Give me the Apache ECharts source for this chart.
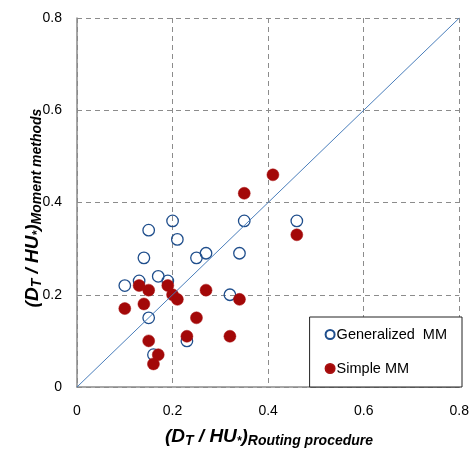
<!DOCTYPE html>
<html>
<head>
<meta charset="utf-8">
<script src="https://cdn.jsdelivr.net/npm/echarts@6/dist/echarts.min.js"></script>
<style>html,body{margin:0;padding:0;background:#fff}#c{width:472px;height:454px}</style>
</head>
<body>
<div id="c"></div>
<script>
const axisTicks = [0, 0.2, 0.4, 0.6, 0.8];
const seriesNames = ['Generalized  MM', 'Simple MM'];
const generalizedMM = [
  [0.20, 0.36], [0.15, 0.34], [0.21, 0.32], [0.35, 0.36], [0.46, 0.36],
  [0.14, 0.28], [0.25, 0.28], [0.27, 0.29], [0.34, 0.29], [0.17, 0.24],
  [0.13, 0.23], [0.19, 0.23], [0.10, 0.22], [0.32, 0.20], [0.15, 0.15],
  [0.23, 0.10], [0.16, 0.07]
];
const simpleMM = [
  [0.41, 0.46], [0.35, 0.42], [0.46, 0.33], [0.13, 0.22], [0.15, 0.21],
  [0.19, 0.22], [0.20, 0.20], [0.21, 0.19], [0.27, 0.21], [0.34, 0.19],
  [0.10, 0.17], [0.14, 0.18], [0.25, 0.15], [0.15, 0.10], [0.23, 0.11],
  [0.32, 0.11], [0.17, 0.07], [0.16, 0.05]
];
const identityLine = [[0, 0], [0.8, 0.8]];

const FONT = '"Liberation Sans", Arial, sans-serif';
const chart = echarts.init(document.getElementById('c'));
const big = {fontFamily: FONT, fontSize: 19, fontWeight: 'bold', fontStyle: 'italic', color: '#000', lineHeight: 22, verticalAlign: 'middle'};
const sub = {fontFamily: FONT, fontSize: 14, fontWeight: 'bold', fontStyle: 'italic', color: '#000', lineHeight: 14, padding: [10, 0, 0, 0], verticalAlign: 'bottom'};
const star = Object.assign({}, sub, {fontSize: 12, lineHeight: 12, padding: [9, 0, 0, 0]});
function axisRich() {
  return {b: big, s: sub, t: star};
}
const axisCommon = {
  type: 'value', min: 0, max: 0.8, interval: 0.2,
  axisLine: {show: true, lineStyle: {color: '#8a8a8a', width: 1.5}},
  axisTick: {show: false},
  splitLine: {show: true, lineStyle: {color: '#8c8c8c', type: [5, 4], width: 1}},
  axisLabel: {fontFamily: FONT, fontSize: 14, color: '#000'}
};
chart.setOption({
  animation: false,
  backgroundColor: '#fff',
  grid: {left: 77, right: 11, top: 18, bottom: 67},
  xAxis: Object.assign({}, axisCommon, {axisLabel: Object.assign({}, axisCommon.axisLabel, {margin: 17})}),
  yAxis: Object.assign({}, axisCommon, {axisLabel: Object.assign({}, axisCommon.axisLabel, {margin: 15})}),
  legend: {
    data: seriesNames,
    orient: 'vertical',
    right: 10, bottom: 67,
    backgroundColor: '#fff',
    borderColor: '#222', borderWidth: 1,
    padding: [10, 15, 11, 15],
    itemGap: 19,
    itemWidth: 9, itemHeight: 9,
    textStyle: {fontFamily: FONT, fontSize: 14.5, color: '#000', padding: [0, 0, 0, -3]}
  },
  graphic: [
    {type: 'text', x: 269, y: 437, style: {
      text: '{b|(D}{s|T}{b| / HU}{t|*}{b|)}{s|Routing procedure}',
      rich: axisRich(), align: 'center', verticalAlign: 'middle'}},
    {type: 'text', x: 33, y: 208, rotation: Math.PI / 2, style: {
      text: '{b|(D}{s|T}{b| / HU}{t|*}{b|)}{s|Moment methods}',
      rich: axisRich(), align: 'center', verticalAlign: 'middle'}}
  ],
  series: [
    {name: seriesNames[0], type: 'scatter', data: generalizedMM, symbol: 'circle', symbolSize: 11.5,
      itemStyle: {color: 'rgba(255,255,255,0)', borderColor: '#1f4e8c', borderWidth: 1.3, opacity: 1}, z: 2},
    {name: seriesNames[1], type: 'scatter', data: simpleMM, symbol: 'circle', symbolSize: 12,
      itemStyle: {color: '#a30808', borderColor: '#a81010', borderWidth: 0.5, opacity: 1}, z: 3},
    {name: 'identity', type: 'line', data: identityLine, symbol: 'none', silent: true,
      lineStyle: {color: '#4a7ebb', width: 1}, z: 4}
  ]
});
</script>
</body>
</html>
